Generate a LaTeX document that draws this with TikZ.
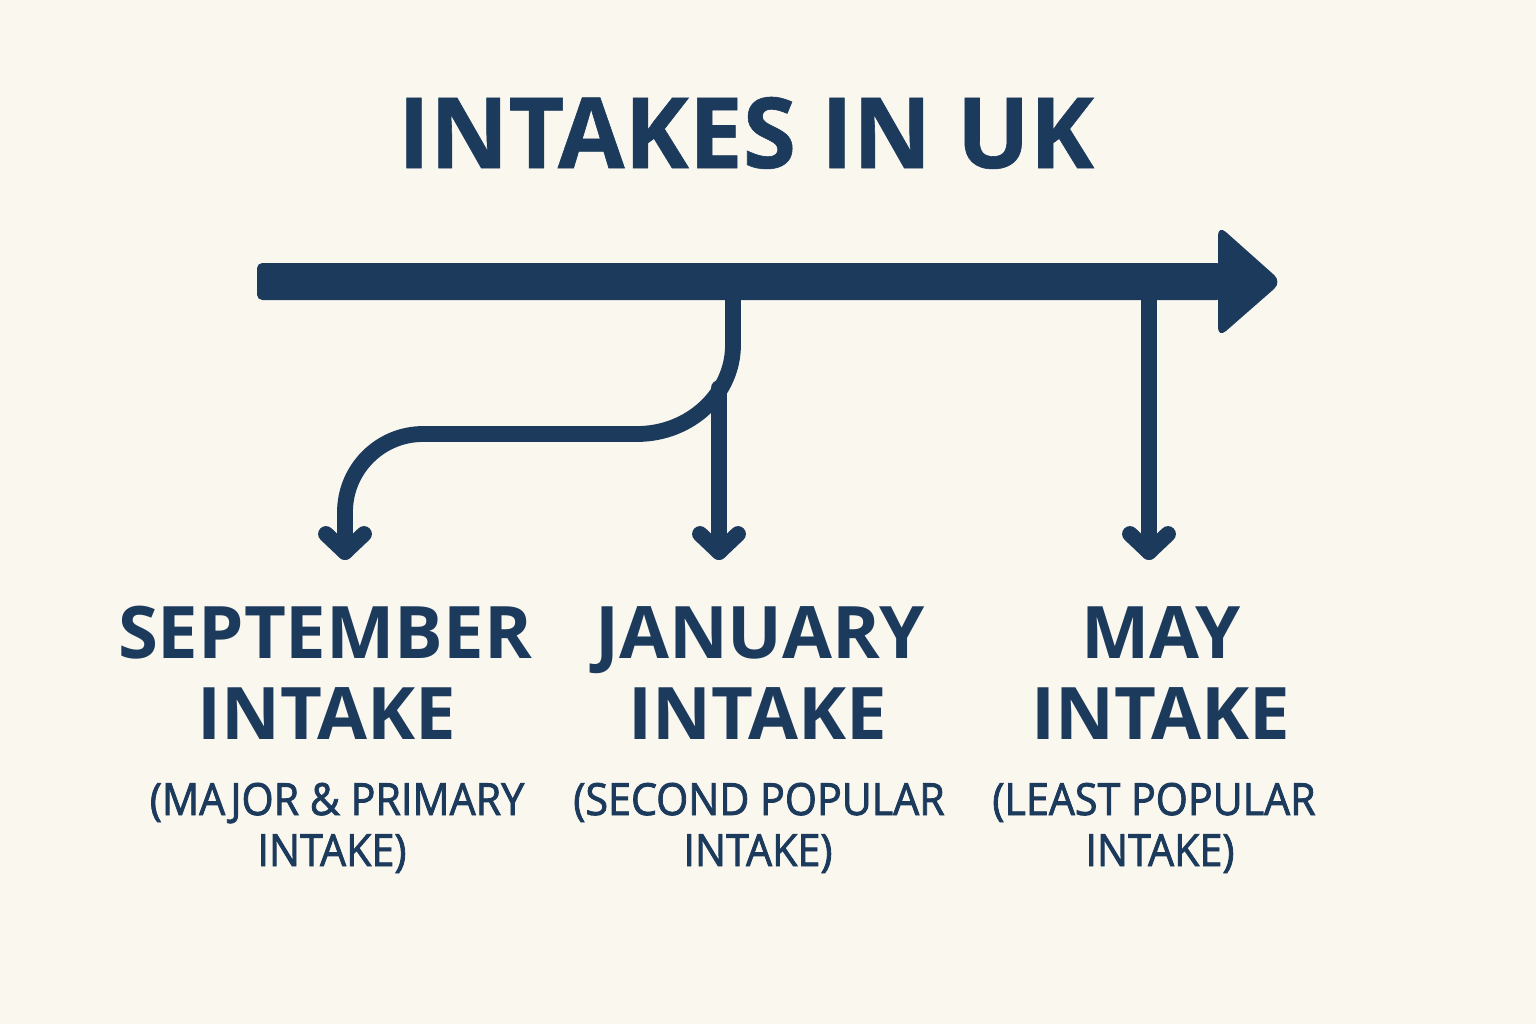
\documentclass[tikz,border=0pt]{standalone}
\usepackage{fontspec}
\setmainfont{Open Sans}
\newfontfamily\titlefont[FakeStretch=0.985,FakeBold=0.6]{Open Sans}
\newfontfamily\subfont[FakeStretch=0.93,FakeBold=1.8]{Open Sans}
\definecolor{navy}{HTML}{1B3A5C}
\definecolor{bgcream}{HTML}{FAF7EF}
\tikzset{
  conn/.style={draw=navy, line width=4.5pt, line cap=round, line join=round},
  titletext/.style={anchor=base, inner sep=0pt, text=navy, font=\titlefont\bfseries\fontsize{27.9}{30}\selectfont},
  monthtext/.style={anchor=base, inner sep=0pt, text=navy, font=\bfseries\fontsize{20.6}{24}\selectfont},
  subtext/.style={anchor=base, inner sep=0pt, text=navy, font=\subfont\fontsize{12.6}{14}\selectfont},
}
\begin{document}
\begin{tikzpicture}[x=0.01cm, y=-0.01cm]
\useasboundingbox (0,0) rectangle (1536,1024);
\fill[bgcream] (0,0) rectangle (1536,1024);

% title
\node[titletext] (title) at (746,168) {INTAKES IN UK};

% timeline
\fill[navy, rounded corners=1.5pt] (257,263) rectangle (1222,300);
\fill[navy, rounded corners=3pt] (1218,225) -- (1282,282) -- (1218,338) -- cycle;

\coordinate (sepStart) at (733,290);
\coordinate (janStart) at (719,388);
\coordinate (mayStart) at (1149,290);
\coordinate (sepTip) at (345,552);
\coordinate (janTip) at (719,552);
\coordinate (mayTip) at (1149,552);

% connectors
\draw[conn] (sepStart) -- (733,345) .. controls (733,394) and (690,434) .. (637,434)
  -- (423,434) .. controls (380,434) and (345,469) .. (345,512) -- (sepTip);
\draw[conn] (janStart) -- (janTip);
\draw[conn] (mayStart) -- (mayTip);
\draw[conn] (sepTip) ++(-19,-18) -- (sepTip) -- ++(19,-18);
\draw[conn] (janTip) ++(-19,-18) -- (janTip) -- ++(19,-18);
\draw[conn] (mayTip) ++(-19,-18) -- (mayTip) -- ++(19,-18);

% labels
\node[monthtext] (sep1) at (325,658) {SEPTEMBER};
\node[monthtext] (sep2) at (327,739) {INTAKE};
\node[subtext] (sep3) at (337,815) {(MAJOR \& PRIMARY};
\node[subtext] (sep4) at (332,866) {INTAKE)};

\node[monthtext] (jan1) at (760,658) {JANUARY};
\node[monthtext] (jan2) at (758,739) {INTAKE};
\node[subtext] (jan3) at (759,815) {(SECOND POPULAR};
\node[subtext] (jan4) at (758,866) {INTAKE)};

\node[monthtext] (may1) at (1161,658) {MAY};
\node[monthtext] (may2) at (1161,739) {INTAKE};
\node[subtext] (may3) at (1154,815) {(LEAST POPULAR};
\node[subtext] (may4) at (1160,866) {INTAKE)};
\end{tikzpicture}
\end{document}
